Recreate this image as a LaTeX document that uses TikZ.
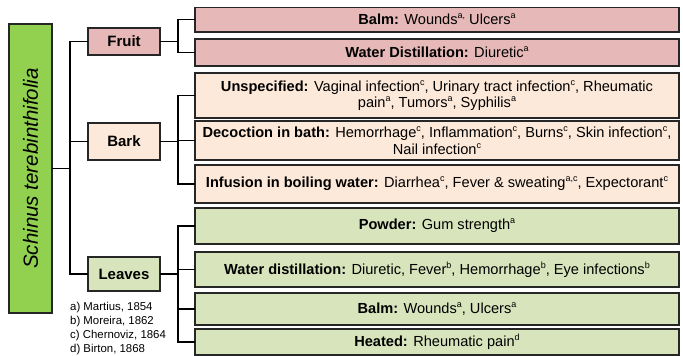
\documentclass[tikz,border=0pt]{standalone}
\usepackage{fontspec}
\setmainfont{Liberation Sans}
\definecolor{maingreen}{HTML}{92D050}
\definecolor{fruitpink}{HTML}{E6B8B7}
\definecolor{barkpeach}{HTML}{FDE9D9}
\definecolor{leafgreen}{HTML}{D8E4BC}
\definecolor{edge}{HTML}{262626}
\newcommand{\sps}[1]{\raisebox{0.42em}{\fontsize{9}{9}\selectfont #1}}
\begin{document}
\begin{tikzpicture}[x=1pt,y=-1pt,
  box/.style={draw=edge,line width=1.5pt,inner sep=0pt,outer sep=0pt,align=center,
    font=\fontsize{14.6}{16.5}\selectfont},
  organ/.style={box,minimum width=72pt,font=\fontsize{15}{17}\selectfont\bfseries},
  usebox/.style={box,minimum width=484pt},
  conn/.style={line width=1.3pt,black}]
\useasboundingbox (0,0) rectangle (683,356);
\begin{scope}
\clip (0,7.8) rectangle (683,357);
% main
\node[box,fill=maingreen,minimum width=43pt,minimum height=289pt] (main) at (30.5,168.5)
  {\rotatebox{90}{\fontsize{20.5}{22}\selectfont\itshape Schinus terebinthifolia}};
% organs
\node[organ,fill=fruitpink,minimum height=27pt] (fruit) at (124,41.5) {Fruit};
\node[organ,fill=barkpeach,minimum height=37pt] (bark) at (124,141.5) {Bark};
\node[organ,fill=leafgreen,minimum height=34pt] (leaves) at (124,274) {Leaves};
% uses
\node[usebox,fill=fruitpink,minimum height=25pt] (fb1) at (437,19.5)
  {\textbf{Balm:} Wounds\sps{a,} Ulcers\sps{a}};
\node[usebox,fill=fruitpink,minimum height=27pt] (fb2) at (437,52.5)
  {\textbf{Water Distillation:} Diuretic\sps{a}};
\node[usebox,fill=barkpeach,minimum height=45pt] (bb1) at (437,95.5)
  {\textbf{Unspecified:} Vaginal infection\sps{c}, Urinary tract infection\sps{c}, Rheumatic\\
   pain\sps{a}, Tumors\sps{a}, Syphilis\sps{a}};
\node[usebox,fill=barkpeach,minimum height=39pt] (bb2) at (437,140.5)
  {\textbf{Decoction in bath:} Hemorrhage\sps{c}, Inflammation\sps{c}, Burns\sps{c}, Skin infection\sps{c},\\
   Nail infection\sps{c}};
\node[usebox,fill=barkpeach,minimum height=38pt] (bb3) at (437,184)
  {\textbf{Infusion in boiling water:} Diarrhea\sps{c}, Fever \& sweating\sps{a,c}, Expectorant\sps{c}};
\node[usebox,fill=leafgreen,minimum height=36pt] (lb1) at (437,226)
  {\textbf{Powder:} Gum strength\sps{a}};
\node[usebox,fill=leafgreen,minimum height=35pt] (lb2) at (437,269.5)
  {\textbf{Water distillation:} Diuretic, Fever\sps{b}, Hemorrhage\sps{b}, Eye infections\sps{b}};
\node[usebox,fill=leafgreen,minimum height=32pt] (lb3) at (437,309)
  {\textbf{Balm:} Wounds\sps{a}, Ulcers\sps{a}};
\node[usebox,fill=leafgreen,minimum height=26pt] (lb4) at (437,342)
  {\textbf{Heated:} Rheumatic pain\sps{d}};
% legend
\node[anchor=west,align=left,inner sep=0pt,font=\fontsize{11.4}{13.7}\selectfont] (legend) at (70,328.5)
  {a) Martius, 1854\\ b) Moreira, 1862\\ c) Chernoviz, 1864\\ d) Birton, 1868};
% connectors
\coordinate (t1) at (70,168.5);
\coordinate (cx) at (178,0);
\draw[conn] (main.east) -- (t1);
\draw[conn] (fruit.west) -- (fruit.west -| t1) -- (leaves.west -| t1) -- (leaves.west);
\draw[conn] (bark.west) -- (bark.west -| t1);
\draw[conn] (fruit.east) -- (fruit.east -| cx);
\draw[conn] (fb1.west) -- (fb1.west -| cx) -- (fb2.west -| cx) -- (fb2.west);
\draw[conn] (bark.east) -- (bark.east -| cx);
\draw[conn] (bb1.west) -- (bb1.west -| cx) -- (bb3.west -| cx) -- (bb3.west);
\draw[conn] (bb2.west) -- (bb2.west -| cx);
\draw[conn] (leaves.east) -- (leaves.east -| cx);
\draw[conn] (lb1.west) -- (lb1.west -| cx) -- (lb4.west -| cx) -- (lb4.west);
\draw[conn] (lb2.west) -- (lb2.west -| cx);
\draw[conn] (lb3.west) -- (lb3.west -| cx);
\end{scope}
\end{tikzpicture}
\end{document}
